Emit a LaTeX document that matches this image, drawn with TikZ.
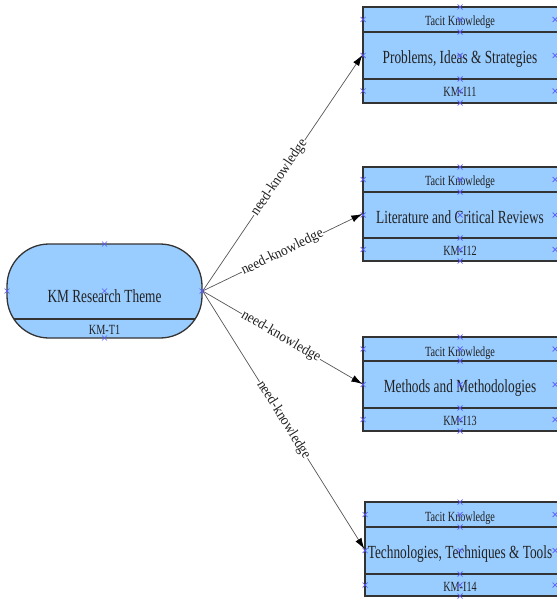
\documentclass[tikz,border=0pt]{standalone}
\usepackage{fontspec}
\setmainfont{Liberation Serif}
\newfontfamily\condfont[FakeStretch=0.72]{Liberation Serif}
\newfontfamily\smallcondfont[FakeStretch=0.73]{Liberation Serif}
\newfontfamily\edgefont[FakeStretch=0.93]{Liberation Serif}
\usetikzlibrary{arrows.meta}
\definecolor{boxfill}{HTML}{99CCFF}
\definecolor{boxline}{HTML}{333333}
\definecolor{txt}{HTML}{222222}
\definecolor{mkc}{HTML}{5A5AFF}
\definecolor{edgec}{HTML}{555555}
\begin{document}
\begin{tikzpicture}[x=1pt,y=-1pt,
  box/.style={draw=boxline, fill=boxfill, line width=1.3pt, inner sep=0pt, rectangle},
  divider/.style={draw=boxline, line width=1.3pt},
  bigtxt/.style={font=\condfont\fontsize{18.5}{20}\selectfont, text=txt, inner sep=0pt, anchor=base},
  smalltxt/.style={font=\smallcondfont\fontsize{14}{16}\selectfont, text=txt, inner sep=0pt, anchor=base},
  conn/.style={draw=edgec, line width=0.7pt, -{Latex[length=11pt,width=7pt,black]}},
  elabel/.style={font=\edgefont\fontsize{14.5}{16}\selectfont, text=txt, fill=white, inner sep=0.6pt, sloped},
  mk/.pic={\draw[mkc, line width=0.7pt] (-2.5pt,-2.5pt)--(2.5pt,2.5pt) (-2.5pt,2.5pt)--(2.5pt,-2.5pt);}
]
\useasboundingbox (0,0) rectangle (556,601);

% left theme node
\node[box, rounded corners=42pt, minimum width=195pt, minimum height=94pt,
  path picture={\draw[divider] ([yshift=19pt]path picture bounding box.south west) -- ([yshift=19pt]path picture bounding box.south east);}]
  (theme) at (104.5,291) {};
\node[bigtxt] (themetxt) at (104.5,302) {KM Research Theme};
\node[smalltxt] (themeid) at (104.5,334) {KM-T1};

% right boxes
\foreach \n/\xl/\t/\da/\db/\b/\ti/\id in {
  b1/363/7/32/79/103/{Problems, Ideas \& Strategies}/KM-I11,
  b2/363/167/192/238/261/{Literature and Critical Reviews}/KM-I12,
  b3/363/337/361/408/431/{Methods and Methodologies}/KM-I13,
  b4/365/502/527/574/596/{Technologies, Techniques \& Tools}/KM-I14}{
  \node[box, minimum width={(558-\xl)*1pt}, minimum height={(\b-\t)*1pt}] (\n) at ({(\xl+558)/2},{(\t+\b)/2}) {};
  \draw[divider] (\xl,\da) -- (558,\da);
  \draw[divider] (\xl,\db) -- (558,\db);
  \node[smalltxt] (\n-tk) at (460,{\t+19}) {Tacit Knowledge};
  \node[bigtxt] (\n-ti) at (460,{\da+31.5}) {\ti};
  \node[smalltxt] (\n-id) at (460,{\db+17.5}) {\id};
  % handle markers
  \foreach \yy in {\t,{(\t+\da)/2},\da,{(\da+\db)/2},\db,{(\db+\b)/2},\b}{
    \pic at (460,{\yy}) {mk};
  }
  \foreach \yy in {{(\t+\da)/2},{(\da+\db)/2},{(\db+\b)/2}}{
    \pic at (\xl,{\yy}) {mk};
    \pic at (555,{\yy}) {mk};
  }
}

% connectors
\draw[conn] (theme.east) -- node[elabel, pos=0.48] {need-knowledge} (b1.west);
\draw[conn] (theme.east) -- node[elabel, pos=0.5] {need-knowledge} (b2.west);
\draw[conn] (theme.east) -- node[elabel, pos=0.49] {need-knowledge} (b3.west);
\draw[conn] (theme.east) -- node[elabel, pos=0.5] {need-knowledge} (b4.west);

% theme markers
\foreach \p in {(104.5,244),(104.5,291),(7,291),(202,291),(104.5,338)}{
  \pic at \p {mk};
}
\end{tikzpicture}
\end{document}
